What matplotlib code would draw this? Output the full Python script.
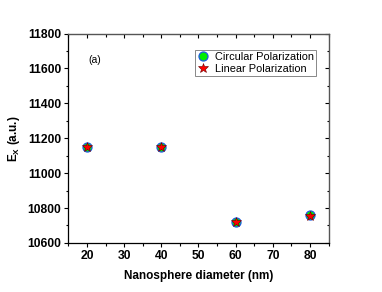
import matplotlib
matplotlib.use("Agg")
import matplotlib.pyplot as plt
from matplotlib.ticker import MultipleLocator

plt.rcParams['font.family'] = ['Liberation Sans', 'DejaVu Sans']
plt.rcParams['mathtext.fontset'] = 'custom'
plt.rcParams['mathtext.bf'] = 'Liberation Sans:bold'
plt.rcParams['mathtext.rm'] = 'Liberation Sans'

# data
diameter = [20, 40, 60, 80]
circular = [11150, 11150, 10722, 10758]
linear = [11148, 11150, 10718, 10756]

fig = plt.figure(figsize=(3.82, 2.92), dpi=100)
ax = fig.add_axes([0.179, 0.168, 0.681, 0.717])

ax.plot(diameter, circular, 'o', color='#00ee00', markeredgecolor='#1e5ae0',
        markeredgewidth=0.9, markersize=6.5, label='Circular Polarization')
ax.plot(diameter, linear, '*', color='red', markeredgecolor='#600000',
        markeredgewidth=0.4, markersize=7, label='Linear Polarization')

ax.set_xlim(15, 85)
ax.set_ylim(10600, 11800)
ax.xaxis.set_major_locator(MultipleLocator(10))
ax.xaxis.set_minor_locator(MultipleLocator(5))
ax.yaxis.set_major_locator(MultipleLocator(200))
ax.yaxis.set_minor_locator(MultipleLocator(100))

ax.tick_params(which='both', direction='out', width=0.8, labelsize=8.7)
ax.tick_params(which='major', length=3, pad=2)
ax.tick_params(which='minor', length=1.8)
for lab in ax.get_xticklabels() + ax.get_yticklabels():
    lab.set_fontweight('bold')

# inward ticks on top and right
ax2 = ax.secondary_xaxis('top')
ax2.xaxis.set_major_locator(MultipleLocator(10))
ax2.xaxis.set_minor_locator(MultipleLocator(5))
ax2.tick_params(which='both', direction='in', labeltop=False, width=0.8)
ax2.tick_params(which='major', length=3)
ax2.tick_params(which='minor', length=1.8)
ay2 = ax.secondary_yaxis('right')
ay2.yaxis.set_major_locator(MultipleLocator(200))
ay2.yaxis.set_minor_locator(MultipleLocator(100))
ay2.tick_params(which='both', direction='in', labelright=False, width=0.8)
ay2.tick_params(which='major', length=3)
ay2.tick_params(which='minor', length=1.8)

for s in ax.spines.values():
    s.set_linewidth(0.9)
ax.spines['top'].set_color('#555555')
ax.spines['right'].set_color('#555555')

ax.set_xlabel('Nanosphere diameter (nm)', fontsize=8.5, fontweight='bold', labelpad=6)
ax.set_ylabel(r'$\mathbf{E_X}$ (a.u.)', fontsize=8.5, fontweight='bold', labelpad=4)

ax.text(0.075, 0.874, '(a)', transform=ax.transAxes, fontsize=7.5, va='center')

leg = ax.legend(loc='upper right', bbox_to_anchor=(0.952, 0.921), fontsize=7.9,
                fancybox=False, framealpha=1, edgecolor='#888888',
                borderpad=0.15, labelspacing=0.2, handletextpad=0.5,
                handlelength=1.2, borderaxespad=0)
leg.get_frame().set_linewidth(0.7)

fig.savefig('out.png', dpi=100)
